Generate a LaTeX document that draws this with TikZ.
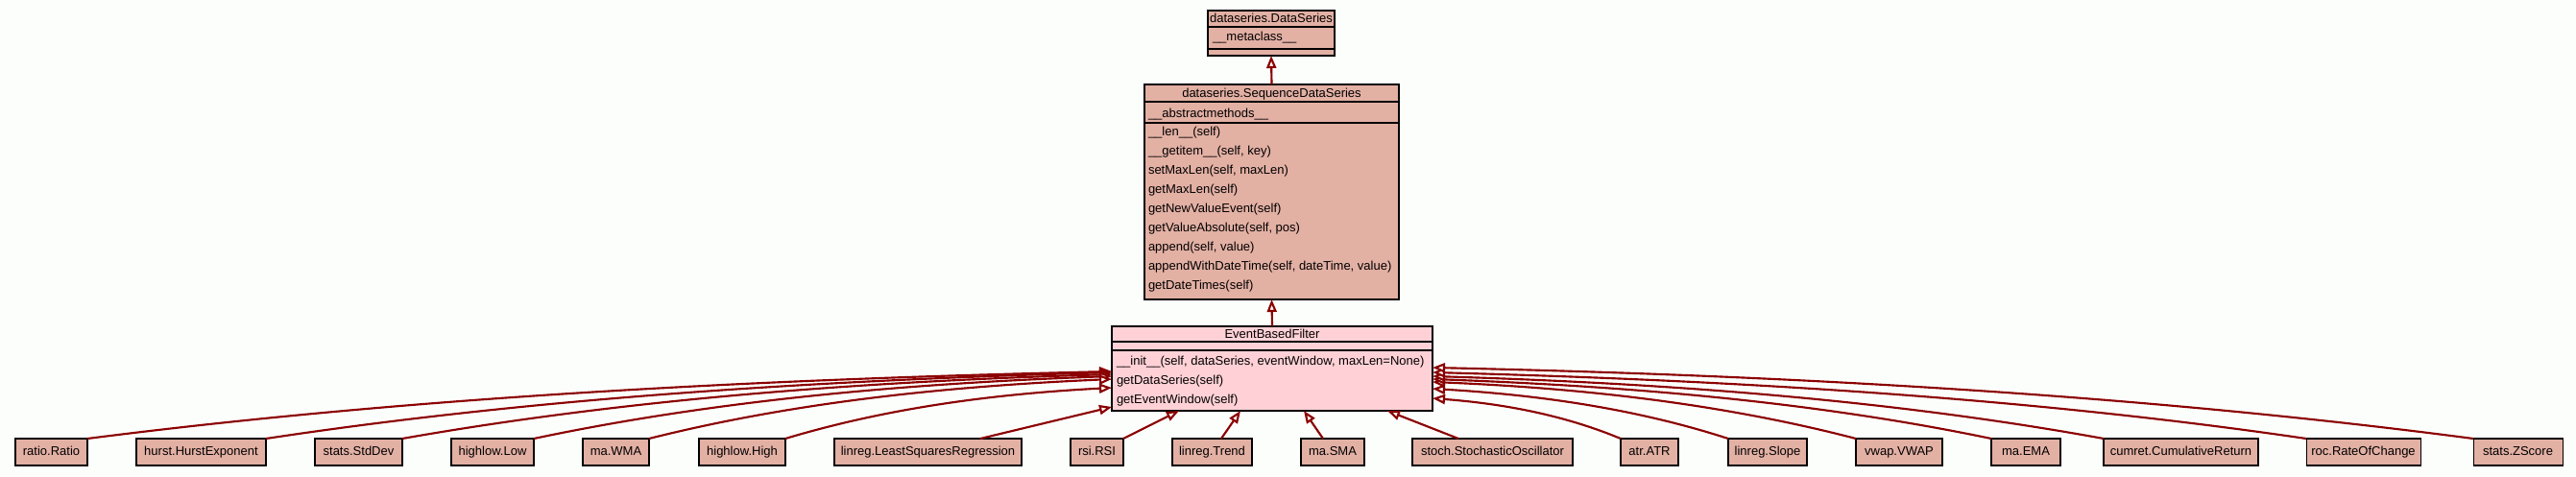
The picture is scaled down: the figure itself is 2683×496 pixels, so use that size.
\documentclass[tikz,border=0pt]{standalone}
\usepackage{fontspec}
\setmainfont{Liberation Sans}
\usetikzlibrary{arrows.meta}
\definecolor{bgc}{RGB}{252,254,252}
\definecolor{salmon}{RGB}{227,176,164}
\definecolor{pinkc}{RGB}{255,209,214}
\definecolor{edgec}{RGB}{139,0,0}
\begin{document}
\begin{tikzpicture}[x=0.75pt,y=-0.75pt,font=\fontsize{9.75}{11.7}\selectfont]
\tikzset{
  clsbox/.style={draw=black,line width=0.8pt,fill=salmon,inner sep=0pt,outer sep=0pt},
  leafbox/.style={clsbox,minimum height=21pt,text height=7.6pt,text depth=2pt,align=center},
  lbl/.style={inner sep=0pt,outer sep=0pt,anchor=base west},
  ttl/.style={inner sep=0pt,outer sep=0pt,anchor=base},
  divider/.style={draw=black,line width=0.8pt},
  inh/.style={draw=edgec,line width=1.6pt,-{Triangle[length=9.75pt,width=7.5pt,fill=bgc]}}
}
\fill[bgc] (0,0) rectangle (2683,496);
\useasboundingbox (0,0) rectangle (2683,496);

% --- dataseries.DataSeries
\node[clsbox,minimum width=99pt,minimum height=35.25pt] (ds) at (1324,34.5) {};
\draw[divider] ([yshift=-12.75pt]ds.north west) -- ([yshift=-12.75pt]ds.north east);
\draw[divider] ([yshift=-30pt]ds.north west) -- ([yshift=-30pt]ds.north east);
\node[ttl] (dsT) at (1324,23.5) {dataseries.DataSeries};
\node[lbl] (dsA) at (1263,42.5) {\_\_metaclass\_\_};

% --- dataseries.SequenceDataSeries
\node[clsbox,minimum width=198.75pt,minimum height=168pt] (sds) at (1324.5,200) {};
\draw[divider] ([yshift=-13.5pt]sds.north west) -- ([yshift=-13.5pt]sds.north east);
\draw[divider] ([yshift=-30pt]sds.north west) -- ([yshift=-30pt]sds.north east);
\node[ttl] (sdsT) at (1324.5,101.5) {dataseries.SequenceDataSeries};
\node[lbl] (sdsA) at (1196,122) {\_\_abstractmethods\_\_};
\node[lbl] (sdsM1) at (1196,141.5) {\_\_len\_\_(self)};
\node[lbl] (sdsM2) at (1196,161.5) {\_\_getitem\_\_(self, key)};
\node[lbl] (sdsM3) at (1196,181.5) {setMaxLen(self, maxLen)};
\node[lbl] (sdsM4) at (1196,201.5) {getMaxLen(self)};
\node[lbl] (sdsM5) at (1196,221.5) {getNewValueEvent(self)};
\node[lbl] (sdsM6) at (1196,241.5) {getValueAbsolute(self, pos)};
\node[lbl] (sdsM7) at (1196,261.5) {append(self, value)};
\node[lbl] (sdsM8) at (1196,281.5) {appendWithDateTime(self, dateTime, value)};
\node[lbl] (sdsM9) at (1196,301.5) {getDateTimes(self)};

% --- EventBasedFilter
\node[clsbox,fill=pinkc,minimum width=250.5pt,minimum height=66pt] (ebf) at (1325,384) {};
\draw[divider] ([yshift=-12pt]ebf.north west) -- ([yshift=-12pt]ebf.north east);
\draw[divider] ([yshift=-18.75pt]ebf.north west) -- ([yshift=-18.75pt]ebf.north east);
\node[ttl] (ebfT) at (1325,352.5) {EventBasedFilter};
\node[lbl] (ebfM1) at (1163,380) {\_\_init\_\_(self, dataSeries, eventWindow, maxLen=None)};
\node[lbl] (ebfM2) at (1163,400) {getDataSeries(self)};
\node[lbl] (ebfM3) at (1163,420) {getEventWindow(self)};

% --- leaf classes
\node[leafbox,minimum width=56.25pt] (ratio) at (53.5,471) {ratio.Ratio};
\node[leafbox,minimum width=101.25pt] (hurst) at (209.5,471) {hurst.HurstExponent};
\node[leafbox,minimum width=68.25pt] (stddev) at (373.5,471) {stats.StdDev};
\node[leafbox,minimum width=64.5pt] (low) at (513,471) {highlow.Low};
\node[leafbox,minimum width=51.75pt] (wma) at (641.5,471) {ma.WMA};
\node[leafbox,minimum width=67.5pt] (high) at (773,471) {highlow.High};
\node[leafbox,minimum width=146.25pt] (lsr) at (966.5,471) {linreg.LeastSquaresRegression};
\node[leafbox,minimum width=41.25pt] (rsi) at (1142.5,471) {rsi.RSI};
\node[leafbox,minimum width=62.25pt] (trend) at (1262.5,471) {linreg.Trend};
\node[leafbox,minimum width=49.5pt] (sma) at (1388,471) {ma.SMA};
\node[leafbox,minimum width=125.25pt] (stoch) at (1554.5,471) {stoch.StochasticOscillator};
\node[leafbox,minimum width=45pt] (atr) at (1718,471) {atr.ATR};
\node[leafbox,minimum width=61.5pt] (slope) at (1841,471) {linreg.Slope};
\node[leafbox,minimum width=67.5pt] (vwap) at (1978,471) {vwap.VWAP};
\node[leafbox,minimum width=54pt] (ema) at (2110,471) {ma.EMA};
\node[leafbox,minimum width=120.75pt] (cumret) at (2271.5,471) {cumret.CumulativeReturn};
\node[leafbox,minimum width=89.25pt] (roc) at (2461.5,471) {roc.RateOfChange};
\node[leafbox,minimum width=69.75pt] (zscore) at (2622.5,471) {stats.ZScore};

% --- inheritance connectors
\draw[inh] (sds.north) -- (ds.south);
\draw[inh] (ebf.north) -- (sds.south);

\draw[inh] (ratio.north east) .. controls +(352,-45) and +(-352,8) .. ([yshift=-35.25pt]ebf.north west);
\draw[inh] (hurst.north east) .. controls +(291,-44) and +(-291,8) .. ([yshift=-36pt]ebf.north west);
\draw[inh] (stddev.north east) .. controls +(244,-43) and +(-244,7) .. ([yshift=-37.5pt]ebf.north west);
\draw[inh] (low.north east) .. controls +(199,-42) and +(-199,7) .. ([yshift=-39pt]ebf.north west);
\draw[inh] (wma.north east) .. controls +(159,-40) and +(-159,7) .. ([yshift=-41.25pt]ebf.north west);
\draw[inh] (high.north east) .. controls +(113,-34) and +(-113,6) .. ([yshift=-48pt]ebf.north west);
\draw[inh] ([xshift=40.9pt]lsr.north) -- ([yshift=-63pt]ebf.north west);

\draw[inh] (rsi.north east) -- ([xshift=52.5pt]ebf.south west);
\draw[inh] ([xshift=7.1pt]trend.north) -- ([xshift=100.5pt]ebf.south west);
\draw[inh] ([xshift=-7.5pt]sma.north) -- ([xshift=150pt]ebf.south west);
\draw[inh] ([xshift=-26.6pt]stoch.north) -- ([xshift=215.25pt]ebf.south west);

\draw[inh] (atr.north west) .. controls +(-65,-27) and +(65,5) .. ([yshift=-56.25pt]ebf.north east);
\draw[inh] (slope.north west) .. controls +(-102,-33) and +(102,6) .. ([yshift=-48.75pt]ebf.north east);
\draw[inh] (vwap.north west) .. controls +(-146,-38) and +(146,6) .. ([yshift=-43.5pt]ebf.north east);
\draw[inh] (ema.north west) .. controls +(-192,-40) and +(192,7) .. ([yshift=-41.25pt]ebf.north east);
\draw[inh] (cumret.north west) .. controls +(-231,-42) and +(231,7) .. ([yshift=-39pt]ebf.north east);
\draw[inh] (roc.north west) .. controls +(-300,-44) and +(300,8) .. ([yshift=-36pt]ebf.north east);
\draw[inh] (zscore.north west) .. controls +(-358,-47) and +(358,8) .. ([yshift=-32.25pt]ebf.north east);
\end{tikzpicture}
\end{document}
